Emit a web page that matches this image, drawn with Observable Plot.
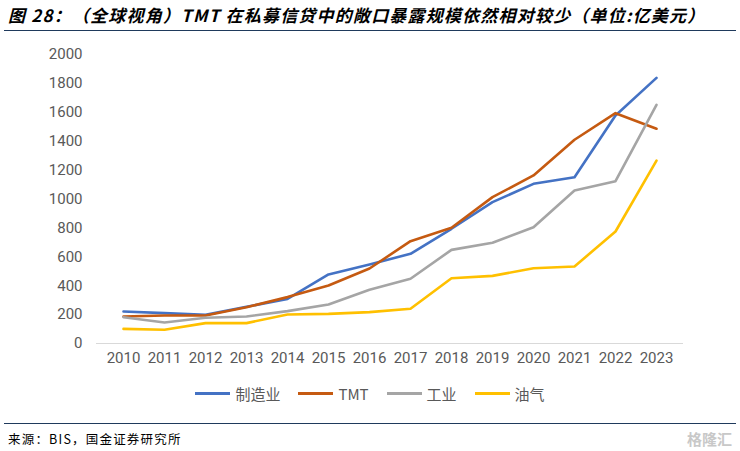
<!DOCTYPE html>
<html><head><meta charset="utf-8">
<script src="https://cdn.jsdelivr.net/npm/d3@7"></script>
<script src="https://cdn.jsdelivr.net/npm/@observablehq/plot@0.6"></script>
<style>
body{margin:0;background:#fff;width:740px;height:451px;overflow:hidden;position:relative;font-family:"Noto Sans CJK SC","Noto Sans",sans-serif;}
#title{position:absolute;left:8px;top:2px;font-size:17px;font-weight:bold;font-style:italic;color:#000;white-space:nowrap;letter-spacing:1.2px;}
#tline{position:absolute;left:4px;width:732px;top:30px;height:0;border-top:1.5px solid #1f3a5c;}
#chart{position:absolute;left:0;top:36px;}
#legend{position:absolute;left:0;width:740px;top:381px;height:24px;display:flex;justify-content:center;align-items:center;font-size:15px;color:#595959;}
.item{display:flex;align-items:center;margin:0 9px;}
.sw{width:35px;height:3px;margin-right:5px;}
#bline{position:absolute;left:4px;width:732px;top:423px;height:0;border-top:1.5px solid #1f3a5c;}
#caption{position:absolute;left:8px;top:429px;font-size:12.5px;color:#000;letter-spacing:1.2px;}
#wm{position:absolute;right:8px;top:428px;font-size:15px;color:#c8c8c8;font-weight:bold;}
</style></head>
<body>
<div id="title">图 28：（全球视角）TMT 在私募信贷中的敞口暴露规模依然相对较少（单位:亿美元）</div>
<div id="tline"></div>
<div id="chart"></div>
<div id="legend"></div>
<div id="bline"></div>
<div id="caption">来源：BIS，国金证券研究所</div>
<div id="wm">格隆汇</div>
<script>
const years = [2010,2011,2012,2013,2014,2015,2016,2017,2018,2019,2020,2021,2022,2023];
const seriesNames = ["制造业","TMT","工业","油气"];
const colors = ["#4472C4","#C55A11","#A5A5A5","#FFC000"];
const manufacturing = [221,210,198,254,309,478,547,621,794,978,1105,1151,1578,1838];
const tmt = [187,194,194,251,321,401,519,708,801,1013,1163,1410,1594,1486];
const industrial = [182,145,178,187,224,270,372,448,648,697,805,1059,1123,1652];
const oilgas = [101,95,141,141,201,205,217,240,452,468,521,533,775,1266];
const yTicks = [0,200,400,600,800,1000,1200,1400,1600,1800,2000];

const allSeries = [manufacturing, tmt, industrial, oilgas];
const data = [];
seriesNames.forEach((s,i)=>years.forEach((y,j)=>data.push({year:String(y), value:allSeries[i][j], series:s})));

const plot = Plot.plot({
  width:740, height:340,
  marginLeft:96, marginRight:57, marginTop:18, marginBottom:33,
  style:{fontFamily:"Roboto, 'Noto Sans', sans-serif", fontSize:"15px", color:"#595959", background:"transparent"},
  x:{type:"point", domain:years.map(String), padding:0.5, label:null, tickSize:0, tickPadding:9},
  y:{domain:[0,2000], ticks:yTicks, tickFormat:d=>String(d), label:null, tickSize:0, tickPadding:14},
  color:{domain:seriesNames, range:colors},
  marks:[
    Plot.ruleY([0], {stroke:"#d9d9d9", strokeWidth:1.2}),
    Plot.line(data, {x:"year", y:"value", z:"series", stroke:"series", strokeWidth:2.6, strokeLinejoin:"round"})
  ]
});
plot.querySelectorAll("g[aria-label='x-axis tick label'] text, g[aria-label='y-axis tick label'] text").forEach(t=>t.setAttribute("fill","#595959"));
document.getElementById("chart").appendChild(plot);

const leg = document.getElementById("legend");
seriesNames.forEach((s,i)=>{
  const it = document.createElement("div"); it.className="item";
  const sw = document.createElement("div"); sw.className="sw"; sw.style.background=colors[i];
  const tx = document.createElement("span"); tx.textContent=s;
  it.appendChild(sw); it.appendChild(tx); leg.appendChild(it);
});
</script>
</body></html>
